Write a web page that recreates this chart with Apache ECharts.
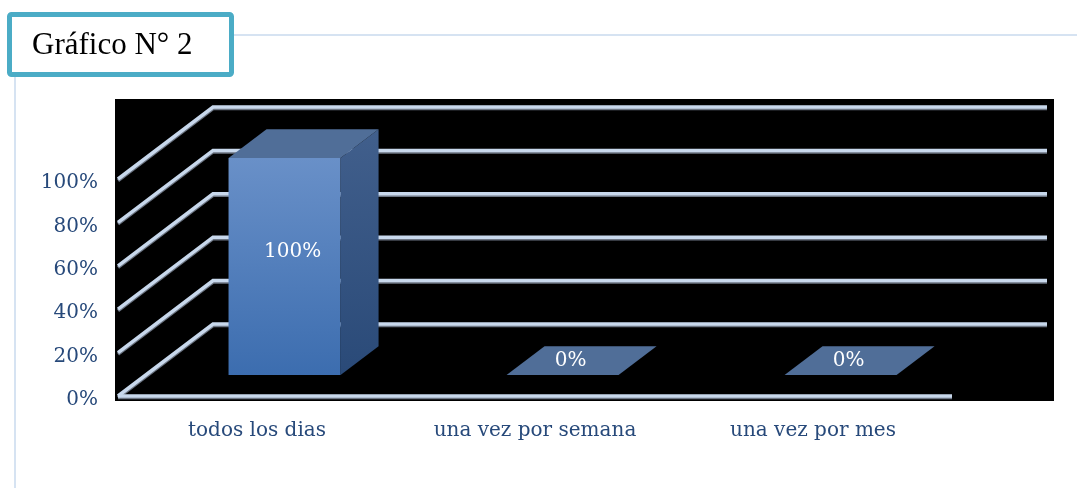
<!DOCTYPE html>
<html>
<head>
<meta charset="utf-8">
<script src="https://cdn.jsdelivr.net/npm/echarts@6/dist/echarts.min.js"></script>
<style>
  html, body { margin: 0; padding: 0; background: #fff; }
  #chart { width: 1077px; height: 488px; }
</style>
</head>
<body>
<div id="chart"></div>
<script>
  // datos del gráfico
  var categories = ['todos los dias', 'una vez por semana', 'una vez por mes'];
  var values = [100, 0, 0];
  var ticks = [0, 20, 40, 60, 80, 100];

  // perspectiva 3D (pixeles)
  var DEPTH_DX = 95, DEPTH_DY = 72;
  var BAR_FRONT = 0.29, BAR_BACK = 0.69;
  var BAR_RATIO = 0.403;

  var chart = echarts.init(document.getElementById('chart'));

  function renderGrid(params, api) {
    var cs = params.coordSys;
    var y = api.coord([0, api.value(1)])[1];
    var left = cs.x, right = cs.x + cs.width;
    var pts = [[left, y], [left + DEPTH_DX, y - DEPTH_DY], [right + DEPTH_DX, y - DEPTH_DY]];
    var children = [{
      type: 'polyline',
      shape: { points: pts },
      style: { stroke: '#c8d8ec', lineWidth: 3.5, fill: null,
        shadowColor: 'rgba(120,130,145,0.9)', shadowOffsetY: 1.5 }
    }];
    if (api.value(1) === 0) {
      children.push({
        type: 'line',
        shape: { x1: left, y1: y, x2: right, y2: y },
        style: { stroke: '#c8d8ec', lineWidth: 3.5,
          shadowColor: 'rgba(120,130,145,0.9)', shadowOffsetY: 1.5 }
      });
    }
    return { type: 'group', children: children };
  }

  function renderBar(params, api) {
    var cat = api.value(0), val = api.value(1);
    var base = api.coord([cat, 0]);
    var top = api.coord([cat, val]);
    var w = api.size([1, 0])[0] * BAR_RATIO;
    var x0 = base[0] - w / 2 + BAR_FRONT * DEPTH_DX;
    var x1 = x0 + w;
    var yb = base[1] - BAR_FRONT * DEPTH_DY;
    var yt = top[1] - BAR_FRONT * DEPTH_DY;
    var bdx = (BAR_BACK - BAR_FRONT) * DEPTH_DX;
    var bdy = (BAR_BACK - BAR_FRONT) * DEPTH_DY;
    var children = [];
    if (yb - yt > 0.5) {
      children.push({
        type: 'rect',
        shape: { x: x0, y: yt, width: w, height: yb - yt },
        style: { fill: { type: 'linear', x: 0, y: 0, x2: 0, y2: 1,
          colorStops: [{ offset: 0, color: '#6990c8' }, { offset: 1, color: '#3c6daf' }] } }
      });
      children.push({
        type: 'polygon',
        shape: { points: [[x1, yt], [x1 + bdx, yt - bdy], [x1 + bdx, yb - bdy], [x1, yb]] },
        style: { fill: { type: 'linear', x: 0, y: 0, x2: 0, y2: 1,
          colorStops: [{ offset: 0, color: '#415f8c' }, { offset: 1, color: '#2a4a78' }] } }
      });
    }
    children.push({
      type: 'polygon',
      shape: { points: [[x0, yt], [x1, yt], [x1 + bdx, yt - bdy], [x0 + bdx, yt - bdy]] },
      style: { fill: '#506e98' }
    });
    children.push({
      type: 'text',
      style: {
        text: val + '%', x: (x0 + x1) / 2 + 8, y: (yt - bdy + yb) / 2,
        align: 'center', verticalAlign: 'middle',
        fill: '#ffffff', font: '20px "DejaVu Serif"'
      }
    });
    return { type: 'group', children: children };
  }

  var option = {
    animation: false,
    backgroundColor: '#ffffff',
    graphic: [
      { type: 'rect', z: 0, shape: { x: 115, y: 99, width: 939, height: 302 }, style: { fill: '#000000' } },
      { type: 'line', z: 0, shape: { x1: 233, y1: 35, x2: 1077, y2: 35 }, style: { stroke: '#d6e3f2', lineWidth: 2 } },
      { type: 'line', z: 0, shape: { x1: 15, y1: 76, x2: 15, y2: 488 }, style: { stroke: '#d6e3f2', lineWidth: 2 } },
      { type: 'rect', z: 10, shape: { x: 9.5, y: 14.5, width: 222, height: 60, r: 2 },
        style: { fill: '#ffffff', stroke: '#4bacc6', lineWidth: 5 } },
      { type: 'text', z: 11, style: { text: 'Gráfico N° 2', x: 32, y: 46, verticalAlign: 'middle',
        fill: '#000000', font: '31px "Liberation Serif"' } }
    ],
    grid: { left: 118, right: 125, top: 179, bottom: 92 },
    xAxis: {
      type: 'category',
      data: categories,
      axisLine: { show: false },
      axisTick: { show: false },
      axisLabel: { margin: 25, color: '#27497a', fontFamily: 'DejaVu Serif', fontSize: 20 }
    },
    yAxis: {
      type: 'value',
      min: 0,
      max: 100,
      interval: 20,
      splitLine: { show: false },
      axisLine: { show: false },
      axisTick: { show: false },
      axisLabel: {
        margin: 20,
        formatter: function (v) { return '{p|' + v + '%}'; },
        rich: {
          p: { color: '#27497a', fontFamily: 'DejaVu Serif', fontSize: 20, padding: [8, 0, 0, 0] }
        }
      }
    },
    series: [
      {
        type: 'custom',
        z: 2,
        renderItem: renderGrid,
        data: ticks.map(function (v) { return [0, v]; })
      },
      {
        type: 'custom',
        z: 3,
        renderItem: renderBar,
        data: values.map(function (v, i) { return [i, v]; })
      }
    ]
  };

  chart.setOption(option);
</script>
</body>
</html>
